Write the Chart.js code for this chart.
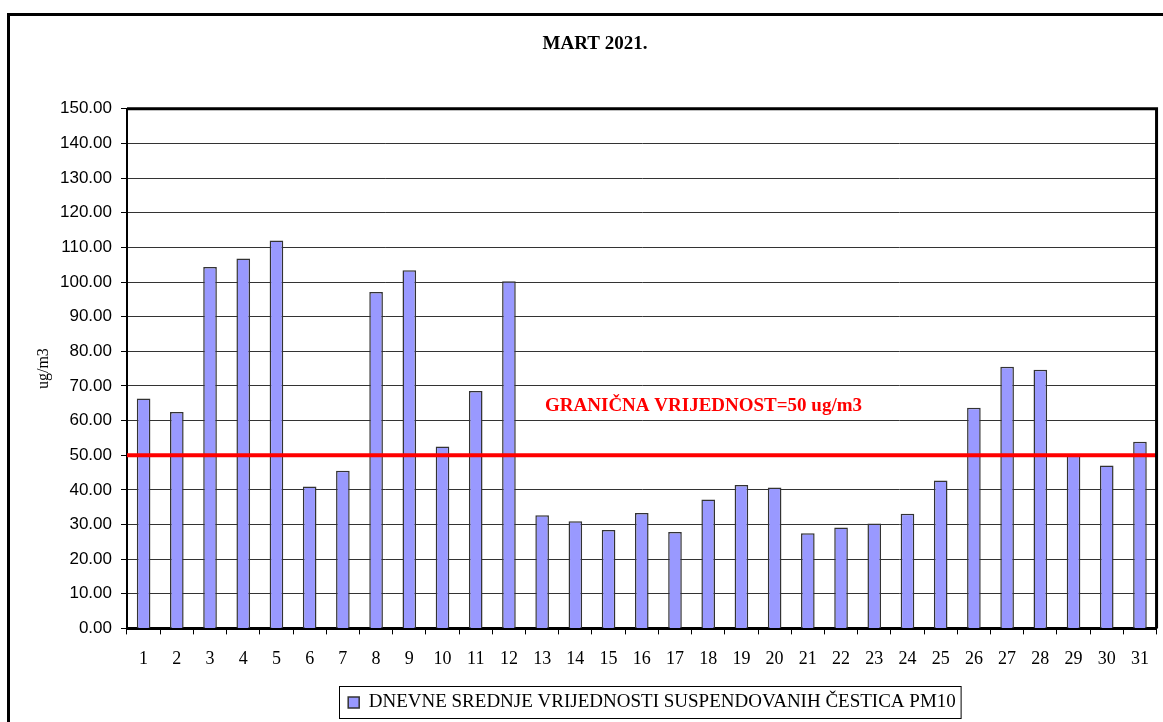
<!DOCTYPE html>
<html>
<head>
<meta charset="utf-8">
<script src="https://cdn.jsdelivr.net/npm/chart.js@4.4.0/dist/chart.umd.min.js"></script>
<style>
  body { margin: 0; background: #fff; }
  #wrap { position: relative; width: 1163px; height: 722px; }
</style>
</head>
<body>
<div id="wrap"><canvas id="pm10"></canvas></div>
<script>
var days = ['1','2','3','4','5','6','7','8','9','10','11','12','13','14','15','16',
            '17','18','19','20','21','22','23','24','25','26','27','28','29','30','31'];
var pm10 = [66.4, 62.5, 104.3, 106.8, 112.0, 41.0, 45.5, 97.1, 103.4, 52.5, 68.5, 100.2,
            32.7, 30.9, 28.4, 33.3, 27.8, 37.2, 41.4, 40.7, 27.5, 29.1, 30.3, 33.1,
            42.7, 63.7, 75.5, 74.7, 50.3, 47.0, 53.9];
var limitValue = 50;
var limitLabel = 'GRANIČNA VRIJEDNOST=50 ug/m3';
var seriesName = 'DNEVNE SREDNJE VRIJEDNOSTI SUSPENDOVANIH ČESTICA PM10';
var chartTitle = 'MART 2021.';

var serif = "'Liberation Serif', 'Times New Roman', serif";
var sans = "'Liberation Sans', Arial, sans-serif";

var framePlugin = {
    id: 'framePlugin',
    afterLayout: function(chart){
        // the original sheet is wider than the picture, legend is centred on the whole sheet
        var lg = chart.legend;
        lg.left += 57;
        lg.right += 57;
    },
    beforeDraw: function(chart){
        var ctx = chart.ctx;
        ctx.save();
        ctx.fillStyle = '#fff';
        ctx.fillRect(0, 0, chart.width, chart.height);
        // outer chart border
        ctx.strokeStyle = '#000';
        ctx.lineWidth = 3;
        ctx.strokeRect(8.5, 14.5, chart.width + 20, chart.height + 20);
        ctx.restore();
    },
    afterDatasetsDraw: function(chart){
        var ctx = chart.ctx;
        var area = chart.chartArea;
        var y = chart.scales.y.getPixelForValue(limitValue);
        ctx.save();
        ctx.strokeStyle = '#ff0000';
        ctx.lineWidth = 4;
        ctx.beginPath();
        ctx.moveTo(area.left, y);
        ctx.lineTo(area.right, y);
        ctx.stroke();
        ctx.fillStyle = '#ff0000';
        ctx.font = 'bold 19px ' + serif;
        ctx.textAlign = 'center';
        ctx.textBaseline = 'middle';
        ctx.fillText(limitLabel, area.left + (area.right - area.left) * 0.56, chart.scales.y.getPixelForValue(64.2));
        ctx.restore();
    },
    afterDraw: function(chart){
        var ctx = chart.ctx;
        var area = chart.chartArea;
        ctx.save();
        ctx.strokeStyle = '#000';
        ctx.lineWidth = 3;
        ctx.beginPath();
        ctx.moveTo(area.left, area.top);
        ctx.lineTo(area.right, area.top);
        ctx.lineTo(area.right, area.bottom);
        ctx.stroke();
        // box round the legend
        var hb = chart.legend.legendHitBoxes[0];
        if(hb){
            ctx.lineWidth = 1;
            ctx.strokeRect(Math.round(hb.left) - 8.5, Math.round(hb.top) - 6.5, hb.width + 14, 32);
        }
        ctx.restore();
    }
};

var config = {
    type: 'bar',
    data: {
        labels: days,
        datasets: [{
            label: seriesName,
            data: pm10,
            backgroundColor: '#9999ff',
            borderColor: '#333333',
            borderWidth: 1.5,
            barPercentage: 0.41,
            categoryPercentage: 1.0
        }]
    },
    options: {
        responsive: true,
        maintainAspectRatio: false,
        animation: false,
        layout: { padding: { left: 30, right: 3, top: 0, bottom: 0 } },
        plugins: {
            title: {
                display: true,
                text: chartTitle,
                color: '#000',
                font: { family: serif, size: 19, weight: 'bold' },
                padding: { top: 33, bottom: 53 }
            },
            legend: {
                position: 'bottom',
                labels: {
                    color: '#000',
                    font: { family: serif, size: 19 },
                    boxWidth: 11,
                    boxHeight: 11,
                    padding: 9
                }
            },
            tooltip: { enabled: false }
        },
        scales: {
            x: {
                grid: { drawOnChartArea: false, drawTicks: true, tickLength: 6, color: '#000', offset: true },
                border: { display: true, color: '#000', width: 3 },
                ticks: { color: '#000', font: { family: serif, size: 18 }, padding: 14, maxRotation: 0, autoSkip: false }
            },
            y: {
                min: 0,
                max: 150,
                afterFit: function(scale){ scale.width = 97; },
                title: { display: true, text: 'ug/m3', color: '#000', font: { family: serif, size: 16 }, padding: 4 },
                grid: { color: '#333', lineWidth: 1, drawTicks: true, tickLength: 6, tickColor: '#000' },
                border: { display: true, color: '#000', width: 2 },
                ticks: {
                    stepSize: 10,
                    color: '#000',
                    padding: 9,
                    font: { family: sans, size: 17 },
                    callback: function(v){ return Number(v).toFixed(2); }
                }
            }
        }
    },
    plugins: [framePlugin]
};

new Chart(document.getElementById('pm10'), config);
</script>
</body>
</html>
